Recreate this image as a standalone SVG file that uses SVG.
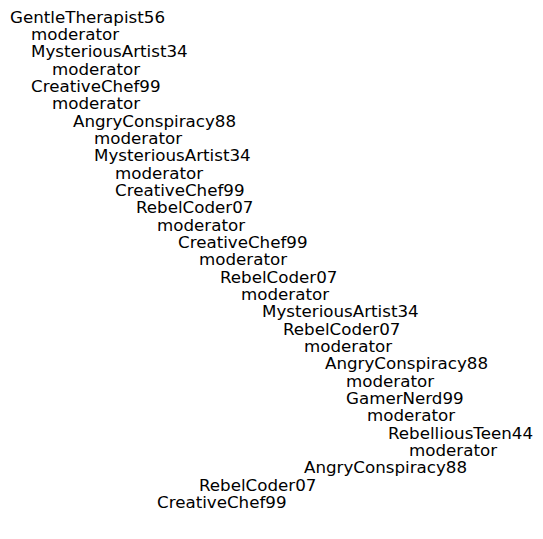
<svg xmlns="http://www.w3.org/2000/svg" width="543" height="539" viewBox="0 0 543 539">
<style>
text { font-family: "DejaVu Sans", sans-serif; font-size: 16.7px; fill: #000; }
</style>
<rect width="543" height="539" fill="#fff"/>
<g id="tree">
<text id="n1" x="10" y="22.5">GentleTherapist56</text>
<text id="n2" x="31" y="39.8">moderator</text>
<text id="n3" x="31" y="57.2">MysteriousArtist34</text>
<text id="n4" x="52" y="74.5">moderator</text>
<text id="n5" x="31" y="91.8">CreativeChef99</text>
<text id="n6" x="52" y="109.2">moderator</text>
<text id="n7" x="73" y="126.5">AngryConspiracy88</text>
<text id="n8" x="94" y="143.8">moderator</text>
<text id="n9" x="94" y="161.2">MysteriousArtist34</text>
<text id="n10" x="115" y="178.5">moderator</text>
<text id="n11" x="115" y="195.8">CreativeChef99</text>
<text id="n12" x="136" y="213.2">RebelCoder07</text>
<text id="n13" x="157" y="230.5">moderator</text>
<text id="n14" x="178" y="247.8">CreativeChef99</text>
<text id="n15" x="199" y="265.2">moderator</text>
<text id="n16" x="220" y="282.5">RebelCoder07</text>
<text id="n17" x="241" y="299.8">moderator</text>
<text id="n18" x="262" y="317.2">MysteriousArtist34</text>
<text id="n19" x="283" y="334.5">RebelCoder07</text>
<text id="n20" x="304" y="351.8">moderator</text>
<text id="n21" x="325" y="369.2">AngryConspiracy88</text>
<text id="n22" x="346" y="386.5">moderator</text>
<text id="n23" x="346" y="403.8">GamerNerd99</text>
<text id="n24" x="367" y="421.2">moderator</text>
<text id="n25" x="388" y="438.5">RebelliousTeen44</text>
<text id="n26" x="409" y="455.8">moderator</text>
<text id="n27" x="304" y="473.2">AngryConspiracy88</text>
<text id="n28" x="199" y="490.5">RebelCoder07</text>
<text id="n29" x="157" y="507.8">CreativeChef99</text>
</g>
</svg>
